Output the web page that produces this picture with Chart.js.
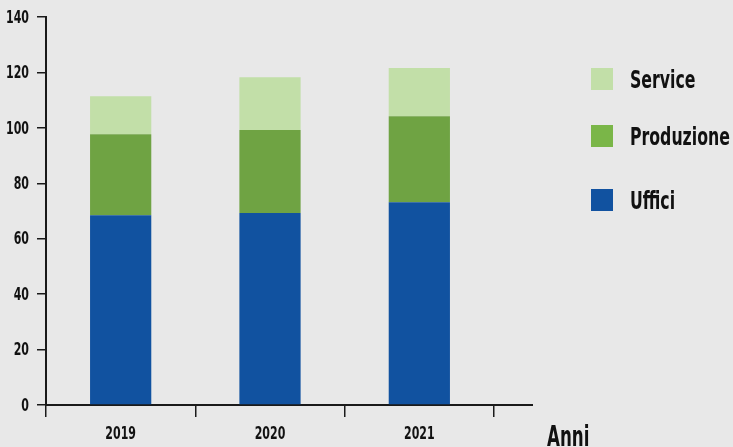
<!DOCTYPE html>
<html>
<head>
<meta charset="utf-8">
<script src="https://cdn.jsdelivr.net/npm/chart.js@4/dist/chart.umd.min.js"></script>
<style>
  html, body { margin: 0; padding: 0; }
  body {
    width: 733px; height: 447px; overflow: hidden; position: relative;
    background: #e8e8e8;
    font-family: "DejaVu Sans", sans-serif;
  }
  #box { position: absolute; left: 0; top: 0; width: 733px; height: 447px; }
  #legenda { position: absolute; left: 591px; top: 68px; }
  .voce { position: absolute; left: 0; height: 22px; white-space: nowrap; }
  .voce span.q { position: absolute; left: 0; top: 0; width: 22px; height: 22px; }
  .voce span.t {
    position: absolute; left: 39px; top: -5px;
    font-weight: bold; font-size: 25px; line-height: 34px; color: #111;
    font-stretch: condensed;
    transform: scaleX(0.7); transform-origin: left center;
  }
  #titolo-x {
    position: absolute; left: 547px; top: 419px;
    font-weight: bold; font-size: 29px; color: #111; font-stretch: condensed;
    transform: scaleX(0.64); transform-origin: left center;
  }
</style>
</head>
<body>
<div id="box"><canvas id="graphique"></canvas></div>
<div id="legenda"></div>
<div id="titolo-x">Anni</div>
<script>
const anni = ['2019', '2020', '2021'];
const uffici = [68.5, 69.3, 73.2];
const produzione = [29.2, 29.9, 31.0];
const service = [13.7, 19.1, 17.4];
const legendaColori = { 'Uffici': '#1152a0', 'Produzione': '#7ab648', 'Service': '#c2dfa8' };

// prolunga la linea dell'asse x oltre l'ultima categoria
const prolungaAsse = {
    id: 'prolungaAsse',
    afterDraw(chart) {
        const { ctx, chartArea } = chart;
        ctx.save();
        ctx.strokeStyle = '#1a1a1a';
        ctx.lineWidth = 2;
        ctx.beginPath();
        ctx.moveTo(chartArea.right - 1, chartArea.bottom);
        ctx.lineTo(chartArea.right + 39, chartArea.bottom);
        ctx.stroke();
        ctx.restore();
    }
};

// etichette degli assi in carattere stretto (le posizioni vengono dalle scale)
const etichetteStrette = {
    id: 'etichetteStrette',
    afterDraw(chart) {
        const ctx = chart.ctx;
        const stretta = 0.68;
        ctx.save();
        ctx.fillStyle = '#111';
        ctx.font = 'bold 18px "DejaVu Sans Condensed", "DejaVu Sans", sans-serif';
        ctx.textBaseline = 'middle';
        const x = chart.scales.x;
        ctx.textAlign = 'center';
        x.ticks.forEach((t, i) => {
            const px = x.getPixelForTick(i);
            ctx.save();
            ctx.translate(px, x.bottom - 13);
            ctx.scale(stretta, 1);
            ctx.fillText(x.getLabelForValue(t.value), 0, 0);
            ctx.restore();
        });
        const y = chart.scales.y;
        ctx.textAlign = 'right';
        y.ticks.forEach((t, i) => {
            const py = y.getPixelForTick(i);
            ctx.save();
            ctx.translate(y.right - 17, py + 1);
            ctx.scale(stretta, 1);
            ctx.fillText(t.label, 0, 0);
            ctx.restore();
        });
        ctx.restore();
    }
};

const grafico = new Chart(document.getElementById('graphique'), {
    type: 'bar',
    data: {
        labels: anni,
        datasets: [
            { label: 'Uffici', data: uffici, backgroundColor: '#1152a0' },
            { label: 'Produzione', data: produzione, backgroundColor: '#6fa343' },
            { label: 'Service', data: service, backgroundColor: '#c2dfa8' }
        ]
    },
    options: {
        responsive: true,
        maintainAspectRatio: false,
        animation: false,
        layout: { padding: { top: 17, right: 239, left: 0, bottom: 0 } },
        datasets: { bar: { categoryPercentage: 1, barPercentage: 0.41 } },
        plugins: {
            legend: { display: false },
            tooltip: { enabled: false }
        },
        scales: {
            x: {
                stacked: true,
                afterFit: s => { s.height = 42; },
                grid: { offset: true, drawOnChartArea: false, tickLength: 12, color: '#1a1a1a', lineWidth: 1.5 },
                border: { display: true, color: '#1a1a1a', width: 2 },
                ticks: { display: false }
            },
            y: {
                stacked: true,
                min: 0,
                max: 140,
                afterFit: s => { s.width = 46; },
                grid: { drawOnChartArea: false, tickLength: 9, color: '#1a1a1a', lineWidth: 1.5 },
                border: { display: true, color: '#1a1a1a', width: 2 },
                ticks: { stepSize: 20, display: false }
            }
        }
    },
    plugins: [prolungaAsse, etichetteStrette]
});

// legenda a destra, dall'alto verso il basso come nel grafico
const legenda = document.getElementById('legenda');
const posizioni = [0, 57, 121];
grafico.data.datasets.slice().reverse().forEach((ds, i) => {
    const voce = document.createElement('div');
    voce.className = 'voce';
    voce.style.top = posizioni[i] + 'px';
    voce.innerHTML = '<span class="q" style="background:' + legendaColori[ds.label] + '"></span><span class="t">' + ds.label + '</span>';
    legenda.appendChild(voce);
});
</script>
</body>
</html>
